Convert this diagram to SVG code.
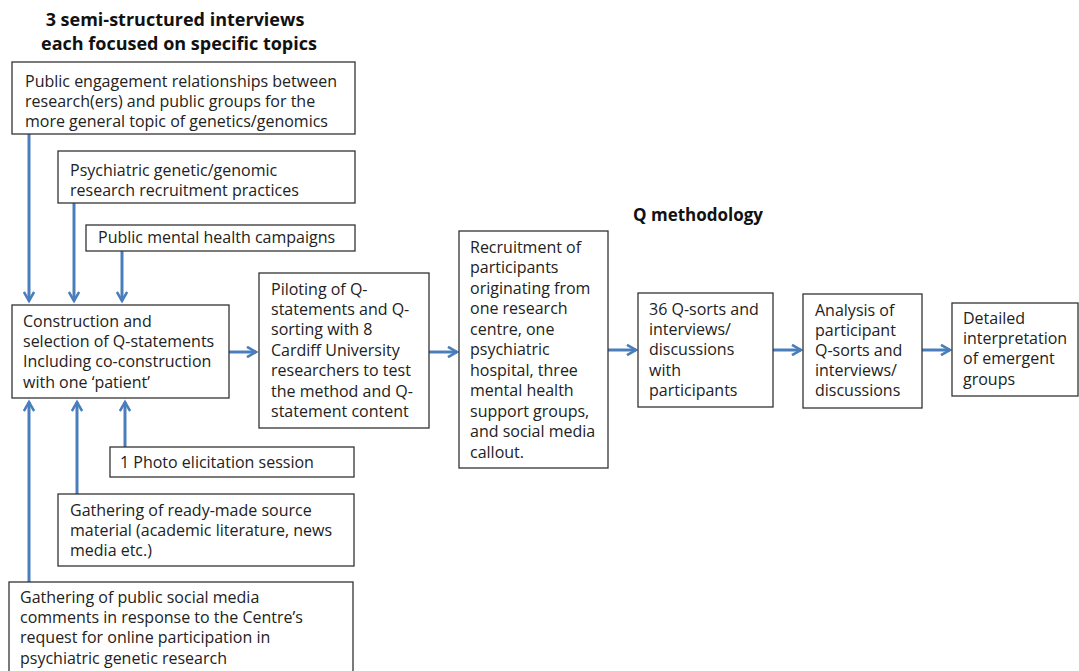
<svg xmlns="http://www.w3.org/2000/svg" width="1079" height="671" viewBox="0 0 1079 671">
<style>
.box{fill:#fff;stroke:#333;stroke-width:1.3}
.t{font-family:"Open Sans","Liberation Sans",sans-serif;font-size:16px;fill:#222}
.h{font-family:"Open Sans","Liberation Sans",sans-serif;font-size:18px;font-weight:bold;fill:#111}
.c{fill:none;stroke:#4a7ebb;stroke-width:3;marker-end:url(#ah)}
</style>
<defs>
<marker id="ah" viewBox="0 0 10 10" refX="8" refY="5" markerWidth="4.3" markerHeight="4.3" orient="auto" markerUnits="strokeWidth">
<path d="M1,1 L8,5 L1,9" fill="none" stroke="#4a7ebb" stroke-width="2"/>
</marker>
</defs>
<rect width="1079" height="671" fill="#fff"/>
<g id="title-interviews">
<text class="h" x="175" y="26" text-anchor="middle">3 semi-structured interviews</text>
<text class="h" x="179" y="50" text-anchor="middle">each focused on specific topics</text>
</g>
<g id="title-q">
<text class="h" x="633" y="221" style="font-size:17px">Q methodology</text>
</g>
<g id="connectors">
<path class="c" d="M29,134 V301"/>
<path class="c" d="M74,203 V301"/>
<path class="c" d="M122,251 V301"/>
<path class="c" d="M29,582 V402"/>
<path class="c" d="M77,494 V402"/>
<path class="c" d="M125,447 V402"/>
<path class="c" d="M229,352 H256"/>
<path class="c" d="M429,352 H457"/>
<path class="c" d="M608,350 H636"/>
<path class="c" d="M773,350 H801"/>
<path class="c" d="M922,350 H950"/>
</g>
<g id="n-public-engagement">
<rect class="box" x="12" y="62" width="343" height="72"/>
<text class="t" x="25" y="87">Public engagement relationships between</text>
<text class="t" x="25" y="107">research(ers) and public groups for the</text>
<text class="t" x="25" y="127">more general topic of genetics/genomics</text>
</g>
<g id="n-psychiatric-recruitment">
<rect class="box" x="58" y="151" width="297" height="52"/>
<text class="t" x="70" y="176">Psychiatric genetic/genomic</text>
<text class="t" x="70" y="196">research recruitment practices</text>
</g>
<g id="n-campaigns">
<rect class="box" x="86" y="225" width="269" height="26"/>
<text class="t" x="98" y="243">Public mental health campaigns</text>
</g>
<g id="n-construction">
<rect class="box" x="12" y="305" width="217" height="93"/>
<text class="t" x="23" y="327">Construction and</text>
<text class="t" x="23" y="347">selection of Q-statements</text>
<text class="t" x="23" y="367">Including co-construction</text>
<text class="t" x="23" y="388">with one ‘patient’</text>
</g>
<g id="n-photo">
<rect class="box" x="110" y="447" width="244" height="30"/>
<text class="t" x="120" y="468">1 Photo elicitation session</text>
</g>
<g id="n-ready-made">
<rect class="box" x="58" y="494" width="296" height="72"/>
<text class="t" x="70" y="516">Gathering of ready-made source</text>
<text class="t" x="70" y="536">material (academic literature, news</text>
<text class="t" x="70" y="556">media etc.)</text>
</g>
<g id="n-social-media">
<rect class="box" x="9" y="582" width="344" height="100"/>
<text class="t" x="20" y="603">Gathering of public social media</text>
<text class="t" x="20" y="623">comments in response to the Centre’s</text>
<text class="t" x="20" y="643">request for online participation in</text>
<text class="t" x="20" y="664">psychiatric genetic research</text>
</g>
<g id="n-piloting">
<rect class="box" x="259" y="273" width="170" height="155"/>
<text class="t" x="271" y="295">Piloting of Q-</text>
<text class="t" x="271" y="315">statements and Q-</text>
<text class="t" x="271" y="335">sorting with 8</text>
<text class="t" x="271" y="356">Cardiff University</text>
<text class="t" x="271" y="376">researchers to test</text>
<text class="t" x="271" y="397">the method and Q-</text>
<text class="t" x="271" y="417">statement content</text>
</g>
<g id="n-recruitment">
<rect class="box" x="459" y="231" width="149" height="237"/>
<text class="t" x="470" y="253">Recruitment of</text>
<text class="t" x="470" y="273">participants</text>
<text class="t" x="470" y="294">originating from</text>
<text class="t" x="470" y="314">one research</text>
<text class="t" x="470" y="335">centre, one</text>
<text class="t" x="470" y="355">psychiatric</text>
<text class="t" x="470" y="376">hospital, three</text>
<text class="t" x="470" y="396">mental health</text>
<text class="t" x="470" y="417">support groups,</text>
<text class="t" x="470" y="437">and social media</text>
<text class="t" x="470" y="458">callout.</text>
</g>
<g id="n-qsorts">
<rect class="box" x="638" y="293" width="135" height="114"/>
<text class="t" x="649" y="315">36 Q-sorts and</text>
<text class="t" x="649" y="335">interviews/</text>
<text class="t" x="649" y="355">discussions</text>
<text class="t" x="649" y="376">with</text>
<text class="t" x="649" y="396">participants</text>
</g>
<g id="n-analysis">
<rect class="box" x="803" y="294" width="119" height="114"/>
<text class="t" x="815" y="316">Analysis of</text>
<text class="t" x="815" y="336">participant</text>
<text class="t" x="815" y="356">Q-sorts and</text>
<text class="t" x="815" y="376">interviews/</text>
<text class="t" x="815" y="396">discussions</text>
</g>
<g id="n-detailed">
<rect class="box" x="952" y="303" width="126" height="93"/>
<text class="t" x="963" y="324">Detailed</text>
<text class="t" x="963" y="344">interpretation</text>
<text class="t" x="963" y="364">of emergent</text>
<text class="t" x="963" y="385">groups</text>
</g>
</svg>
